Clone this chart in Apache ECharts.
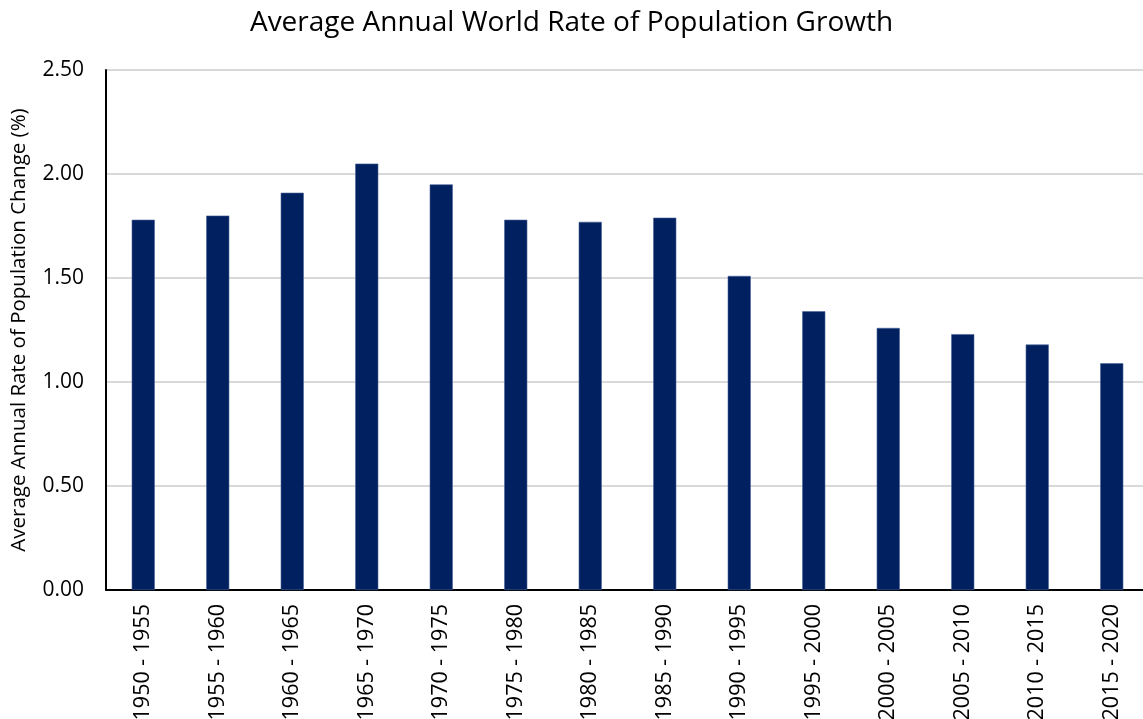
<!DOCTYPE html>
<html>
<head>
<meta charset="utf-8">
<script src="https://cdn.jsdelivr.net/npm/echarts@6/dist/echarts.min.js"></script>
<style>
  html, body { margin: 0; padding: 0; background: #fff; }
  #chart { width: 1143px; height: 719px; }
</style>
</head>
<body>
<div id="chart"></div>
<script>
// Five-year periods and the average annual growth rate (%) in each
const periods = ['1950 - 1955', '1955 - 1960', '1960 - 1965', '1965 - 1970', '1970 - 1975',
  '1975 - 1980', '1980 - 1985', '1985 - 1990', '1990 - 1995', '1995 - 2000',
  '2000 - 2005', '2005 - 2010', '2010 - 2015', '2015 - 2020'];
const growthRates = [1.78, 1.80, 1.91, 2.05, 1.95, 1.78, 1.77, 1.79, 1.51, 1.34, 1.26, 1.23, 1.18, 1.09];

const fontFamily = '"Open Sans", "Noto Sans", sans-serif';
const chart = echarts.init(document.getElementById('chart'), null, { renderer: 'canvas' });

chart.setOption({
  backgroundColor: '#ffffff',
  animation: false,
  title: {
    text: 'Average Annual World Rate of Population Growth',
    left: 'center',
    top: 4,
    textStyle: { fontFamily, fontSize: 28, fontWeight: 'normal', color: '#000' }
  },
  // plot area runs slightly past the right edge of the canvas
  grid: { left: 106, right: -6, top: 70, bottom: 129, outerBoundsMode: 'none', containLabel: false },
  xAxis: {
    type: 'category',
    data: periods,
    axisLine: { lineStyle: { color: '#000', width: 2 } },
    axisTick: { show: false },
    axisLabel: {
      rotate: 90,
      margin: 14,
      fontFamily, fontSize: 21.5, color: '#000'
    }
  },
  yAxis: {
    type: 'value',
    min: 0,
    max: 2.5,
    interval: 0.5,
    name: 'Average Annual Rate of Population Change (%)',
    nameLocation: 'middle',
    nameGap: 76,
    nameTextStyle: { fontFamily, fontSize: 20.5, color: '#000' },
    axisLine: { show: true, lineStyle: { color: '#000', width: 2 } },
    axisTick: { show: false },
    axisLabel: {
      margin: 22,
      fontFamily, fontSize: 21, color: '#000',
      formatter: v => v.toFixed(2)
    },
    splitLine: { lineStyle: { color: '#d9d9d9', width: 2 } }
  },
  series: [{
    type: 'bar',
    data: growthRates,
    barWidth: '31%',
    itemStyle: { color: '#002060', borderColor: '#4a6399', borderWidth: 0.6 }
  }]
});
</script>
</body>
</html>
